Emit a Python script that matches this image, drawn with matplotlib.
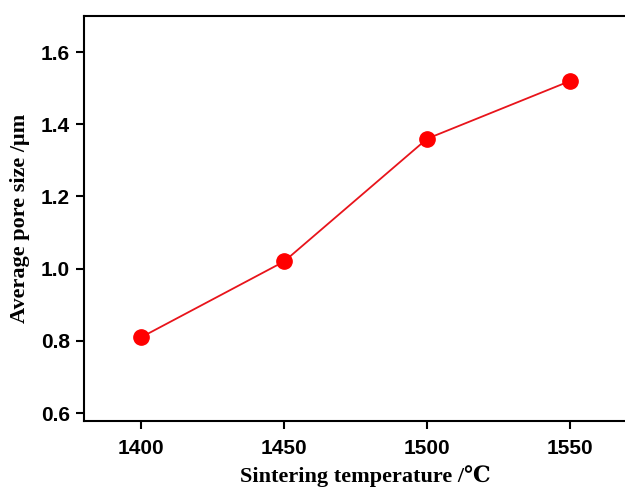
import matplotlib
matplotlib.use("Agg")
import matplotlib.pyplot as plt

temps = [1400, 1450, 1500, 1550]
pore_size = [0.81, 1.02, 1.36, 1.52]
xticks = [1400, 1450, 1500, 1550]
yticks = [0.6, 0.8, 1.0, 1.2, 1.4, 1.6]

fig = plt.figure(figsize=(6.25, 4.91), dpi=100)
ax = fig.add_axes([0.1344, 0.1426, 0.90, 0.8248])

ax.plot(temps, pore_size, color="#e8141b", lw=1.3, marker="o", ms=11,
        mfc="#ff0000", mec="#ff0000")

ax.set_xlim(1380, 1576.7)
ax.set_ylim(0.578, 1.70)
ax.set_xticks(xticks)
ax.set_yticks(yticks)
ax.set_yticklabels([f"{v:.1f}" for v in yticks])

for s in ax.spines.values():
    s.set_linewidth(1.5)
ax.tick_params(direction="out", length=6, width=1.5)
ax.tick_params(axis="x", pad=7)
ax.tick_params(axis="y", pad=4)
for lab in ax.get_xticklabels() + ax.get_yticklabels():
    lab.set_family(["Liberation Sans", "DejaVu Sans"])
    lab.set_fontweight("bold")
    lab.set_fontsize(15)

ax.set_xlabel("Sintering temperature /\u2103", family=["Liberation Serif", "DejaVu Serif"],
              fontweight="bold", fontsize=16, labelpad=5)
ax.set_ylabel("Average pore size /\u03bcm", family=["Liberation Serif", "DejaVu Serif"],
              fontweight="bold", fontsize=16, labelpad=8)

fig.savefig("out.png", dpi=100)
